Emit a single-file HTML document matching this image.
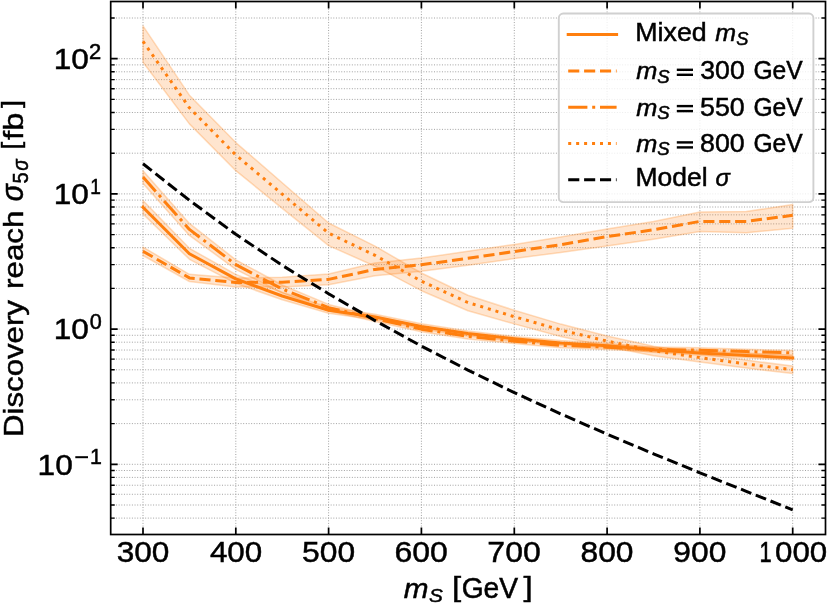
<!DOCTYPE html><html><head><meta charset="utf-8"><style>html,body{margin:0;padding:0;background:#fff}body{width:830px;height:606px;overflow:hidden}</style></head><body><svg width="830" height="606" viewBox="0 0 830 606" style="display:block;will-change:transform">
<rect width="830" height="606" fill="#fff"/>
<path d="M143.0 534.5V1.5M235.8 534.5V1.5M328.6 534.5V1.5M421.4 534.5V1.5M514.3 534.5V1.5M607.1 534.5V1.5M699.9 534.5V1.5M792.7 534.5V1.5M110.7 518.10H825.5M110.7 505.00H825.5M110.7 494.29H825.5M110.7 485.24H825.5M110.7 477.40H825.5M110.7 470.49H825.5M110.7 464.30H825.5M110.7 423.60H825.5M110.7 399.79H825.5M110.7 382.90H825.5M110.7 369.80H825.5M110.7 359.09H825.5M110.7 350.04H825.5M110.7 342.20H825.5M110.7 335.29H825.5M110.7 329.10H825.5M110.7 288.40H825.5M110.7 264.59H825.5M110.7 247.70H825.5M110.7 234.60H825.5M110.7 223.89H825.5M110.7 214.84H825.5M110.7 207.00H825.5M110.7 200.09H825.5M110.7 193.90H825.5M110.7 153.20H825.5M110.7 129.39H825.5M110.7 112.50H825.5M110.7 99.40H825.5M110.7 88.69H825.5M110.7 79.64H825.5M110.7 71.80H825.5M110.7 64.89H825.5M110.7 58.70H825.5M110.7 18.00H825.5" stroke="#a2a2a2" stroke-width="1" stroke-dasharray="1 1.65" fill="none"/>
<polygon points="143.0,200.4 189.4,248.3 235.8,274.4 282.2,292.2 328.6,307.3 375.0,314.2 421.4,323.8 467.9,331.1 514.3,336.4 560.7,340.5 607.1,343.3 653.5,347.4 699.9,350.5 746.3,353.0 792.7,355.4 792.7,360.2 746.3,357.8 699.9,355.3 653.5,352.2 607.1,348.1 560.7,345.3 514.3,341.1 467.9,336.1 421.4,329.1 375.0,319.8 328.6,313.3 282.2,299.8 235.8,283.4 189.4,259.3 143.0,214.0" fill="#ff7f0e" fill-opacity="0.2" stroke="#ff7f0e" stroke-opacity="0.26" stroke-width="1.5" stroke-linejoin="round"/>
<polygon points="143.0,247.1 189.4,274.3 235.8,278.1 282.2,277.3 328.6,274.0 375.0,263.0 421.4,258.1 467.9,251.3 514.3,244.4 560.7,237.0 607.1,228.9 653.5,221.4 699.9,212.0 746.3,211.5 792.7,204.6 792.7,228.2 746.3,232.8 699.9,231.4 653.5,239.2 607.1,246.0 560.7,252.4 514.3,258.6 467.9,265.3 421.4,271.3 375.0,275.8 328.6,284.8 282.2,287.1 235.8,286.9 189.4,281.5 143.0,255.5" fill="#ff7f0e" fill-opacity="0.2" stroke="#ff7f0e" stroke-opacity="0.26" stroke-width="1.5" stroke-linejoin="round"/>
<polygon points="143.0,170.8 189.4,223.4 235.8,259.8 282.2,285.0 328.6,304.4 375.0,315.9 421.4,326.5 467.9,333.9 514.3,338.8 560.7,342.9 607.1,344.8 653.5,347.0 699.9,347.8 746.3,349.2 792.7,350.5 792.7,355.3 746.3,354.0 699.9,352.6 653.5,351.8 607.1,349.6 560.7,347.7 514.3,343.5 467.9,338.9 421.4,331.8 375.0,321.5 328.6,310.8 282.2,293.0 235.8,269.4 189.4,235.4 143.0,183.4" fill="#ff7f0e" fill-opacity="0.2" stroke="#ff7f0e" stroke-opacity="0.26" stroke-width="1.5" stroke-linejoin="round"/>
<polygon points="143.0,25.9 189.4,95.2 235.8,142.6 282.2,182.7 328.6,223.0 375.0,246.1 421.4,273.0 467.9,295.3 514.3,310.3 560.7,324.1 607.1,336.0 653.5,346.3 699.9,353.5 746.3,360.1 792.7,366.1 792.7,373.6 746.3,368.1 699.9,362.0 653.5,355.7 607.1,346.6 560.7,336.5 514.3,323.9 467.9,310.7 421.4,290.7 375.0,266.2 328.6,245.6 282.2,208.3 235.8,170.7 189.4,123.9 143.0,62.2" fill="#ff7f0e" fill-opacity="0.2" stroke="#ff7f0e" stroke-opacity="0.26" stroke-width="1.5" stroke-linejoin="round"/>
<polyline points="143.0,207.20 189.4,253.80 235.8,278.90 282.2,296.00 328.6,310.30 375.0,317.00 421.4,326.45 467.9,333.60 514.3,338.75 560.7,342.90 607.1,345.70 653.5,349.80 699.9,352.90 746.3,355.40 792.7,357.80" fill="none" stroke="#ff7f0e" stroke-width="3.00" stroke-linejoin="round" stroke-linecap="square"/>
<polyline points="143.0,251.30 189.4,277.90 235.8,282.50 282.2,282.20 328.6,279.40 375.0,269.40 421.4,264.70 467.9,258.30 514.3,251.50 560.7,244.70 607.1,236.60 653.5,229.80 699.9,221.40 746.3,221.40 792.7,215.30" fill="none" stroke="#ff7f0e" stroke-width="3.00" stroke-linejoin="round" stroke-linecap="butt" stroke-dasharray="11.10 4.80"/>
<polyline points="143.0,177.10 189.4,229.40 235.8,264.60 282.2,289.00 328.6,307.60 375.0,318.70 421.4,329.15 467.9,336.40 514.3,341.15 560.7,345.30 607.1,347.20 653.5,349.40 699.9,350.20 746.3,351.60 792.7,352.90" fill="none" stroke="#ff7f0e" stroke-width="3.00" stroke-linejoin="round" stroke-linecap="butt" stroke-dasharray="19.20 4.80 3.00 4.80"/>
<polyline points="143.0,41.30 189.4,107.80 235.8,155.00 282.2,194.10 328.6,233.20 375.0,255.30 421.4,281.20 467.9,302.50 514.3,316.70 560.7,330.00 607.1,341.10 653.5,350.80 699.9,357.60 746.3,364.00 792.7,369.70" fill="none" stroke="#ff7f0e" stroke-width="3.00" stroke-linejoin="round" stroke-linecap="butt" stroke-dasharray="3.00 4.95"/>
<polyline points="143.0,163.80 189.4,200.30 235.8,234.30 282.2,265.30 328.6,293.80 375.0,320.60 421.4,346.10 467.9,370.10 514.3,392.60 560.7,413.90 607.1,434.20 653.5,453.80 699.9,472.80 746.3,491.30 792.7,509.90" fill="none" stroke="#000" stroke-width="3.00" stroke-linejoin="round" stroke-linecap="butt" stroke-dasharray="11.10 4.80"/>
<path d="M143.0 534.5v-7M143.0 1.5v7M235.8 534.5v-7M235.8 1.5v7M328.6 534.5v-7M328.6 1.5v7M421.4 534.5v-7M421.4 1.5v7M514.3 534.5v-7M514.3 1.5v7M607.1 534.5v-7M607.1 1.5v7M699.9 534.5v-7M699.9 1.5v7M792.7 534.5v-7M792.7 1.5v7M110.7 464.30h7 M825.5 464.30h-7M110.7 329.10h7 M825.5 329.10h-7M110.7 193.90h7 M825.5 193.90h-7M110.7 58.70h7 M825.5 58.70h-7" stroke="#000" stroke-width="1.7" fill="none"/>
<path d="M110.7 518.10h4 M825.5 518.10h-4M110.7 505.00h4 M825.5 505.00h-4M110.7 494.29h4 M825.5 494.29h-4M110.7 485.24h4 M825.5 485.24h-4M110.7 477.40h4 M825.5 477.40h-4M110.7 470.49h4 M825.5 470.49h-4M110.7 423.60h4 M825.5 423.60h-4M110.7 399.79h4 M825.5 399.79h-4M110.7 382.90h4 M825.5 382.90h-4M110.7 369.80h4 M825.5 369.80h-4M110.7 359.09h4 M825.5 359.09h-4M110.7 350.04h4 M825.5 350.04h-4M110.7 342.20h4 M825.5 342.20h-4M110.7 335.29h4 M825.5 335.29h-4M110.7 288.40h4 M825.5 288.40h-4M110.7 264.59h4 M825.5 264.59h-4M110.7 247.70h4 M825.5 247.70h-4M110.7 234.60h4 M825.5 234.60h-4M110.7 223.89h4 M825.5 223.89h-4M110.7 214.84h4 M825.5 214.84h-4M110.7 207.00h4 M825.5 207.00h-4M110.7 200.09h4 M825.5 200.09h-4M110.7 153.20h4 M825.5 153.20h-4M110.7 129.39h4 M825.5 129.39h-4M110.7 112.50h4 M825.5 112.50h-4M110.7 99.40h4 M825.5 99.40h-4M110.7 88.69h4 M825.5 88.69h-4M110.7 79.64h4 M825.5 79.64h-4M110.7 71.80h4 M825.5 71.80h-4M110.7 64.89h4 M825.5 64.89h-4M110.7 18.00h4 M825.5 18.00h-4" stroke="#000" stroke-width="1.4" fill="none"/>
<rect x="110.7" y="1.5" width="714.8" height="533.0" fill="none" stroke="#000" stroke-width="1.7"/>
<rect x="558.8" y="13.5" width="254.6" height="188.6" rx="4.5" ry="4.5" fill="#fff" fill-opacity="0.8" stroke="#d0d0d0" stroke-width="1.9"/>
<path d="M568.2 34.6H616.6" stroke="#ff7f0e" stroke-width="3.00" stroke-linecap="square"/>
<path d="M568.2 71.0H616.6" stroke="#ff7f0e" stroke-width="3.00" stroke-linecap="butt" stroke-dasharray="11.10 4.80"/>
<path d="M568.2 107.3H616.6" stroke="#ff7f0e" stroke-width="3.00" stroke-linecap="butt" stroke-dasharray="19.20 4.80 3.00 4.80"/>
<path d="M568.2 143.6H616.6" stroke="#ff7f0e" stroke-width="3.00" stroke-linecap="butt" stroke-dasharray="3.00 4.95"/>
<path d="M568.2 179.7H616.6" stroke="#000" stroke-width="3.00" stroke-linecap="butt" stroke-dasharray="11.10 4.80"/>
<text transform="translate(116.75 562.11) scale(0.3158 0.2887)" font-size="100" font-family="Liberation Sans, sans-serif" stroke="#000" stroke-width="1.6">300</text>
<text transform="translate(209.89 562.11) scale(0.3138 0.2887)" font-size="100" font-family="Liberation Sans, sans-serif" stroke="#000" stroke-width="1.6">400</text>
<text transform="translate(302.06 562.11) scale(0.3178 0.2887)" font-size="100" font-family="Liberation Sans, sans-serif" stroke="#000" stroke-width="1.6">500</text>
<text transform="translate(394.54 562.11) scale(0.3198 0.2887)" font-size="100" font-family="Liberation Sans, sans-serif" stroke="#000" stroke-width="1.6">600</text>
<text transform="translate(487.36 562.11) scale(0.3198 0.2887)" font-size="100" font-family="Liberation Sans, sans-serif" stroke="#000" stroke-width="1.6">700</text>
<text transform="translate(580.50 562.11) scale(0.3178 0.2887)" font-size="100" font-family="Liberation Sans, sans-serif" stroke="#000" stroke-width="1.6">800</text>
<text transform="translate(673.31 562.11) scale(0.3178 0.2887)" font-size="100" font-family="Liberation Sans, sans-serif" stroke="#000" stroke-width="1.6">900</text>
<text transform="translate(759.47 562.10) scale(0.2182 0.2884)" font-size="100" font-family="Liberation Sans, sans-serif" stroke="#000" stroke-width="2.3">1</text>
<text transform="translate(775.06 562.11) scale(0.3127 0.2887)" font-size="100" font-family="Liberation Sans, sans-serif" stroke="#000" stroke-width="1.6">000</text>
<text transform="translate(53.79 69.00) scale(0.3161 0.3014)" font-size="100" font-family="Liberation Sans, sans-serif" stroke="#000" stroke-width="1.6">10</text>
<text transform="translate(89.00 58.80) scale(0.2196 0.2129)" font-size="100" font-family="Liberation Sans, sans-serif" stroke="#000" stroke-width="2.3">2</text>
<text transform="translate(53.79 204.20) scale(0.3161 0.3014)" font-size="100" font-family="Liberation Sans, sans-serif" stroke="#000" stroke-width="1.6">10</text>
<text transform="translate(90.26 193.90) scale(0.1909 0.2130)" font-size="100" font-family="Liberation Sans, sans-serif" stroke="#000" stroke-width="2.6">1</text>
<text transform="translate(53.79 339.40) scale(0.3161 0.3014)" font-size="100" font-family="Liberation Sans, sans-serif" stroke="#000" stroke-width="1.6">10</text>
<text transform="translate(89.65 329.48) scale(0.2163 0.2169)" font-size="100" font-family="Liberation Sans, sans-serif" stroke="#000" stroke-width="2.3">0</text>
<text transform="translate(37.58 474.60) scale(0.3170 0.3014)" font-size="100" font-family="Liberation Sans, sans-serif" stroke="#000" stroke-width="1.6">10</text>
<text transform="translate(90.10 464.30) scale(0.2136 0.2130)" font-size="100" font-family="Liberation Sans, sans-serif" stroke="#000" stroke-width="2.3">1</text>
<text transform="translate(403.80 597.60) scale(0.2974 0.2778)" font-size="100" font-family="Liberation Sans, sans-serif" font-style="italic" stroke="#000" stroke-width="1.7">m</text>
<text transform="translate(428.98 601.61) scale(0.2078 0.1917)" font-size="100" font-family="Liberation Sans, sans-serif" font-style="italic" stroke="#000" stroke-width="2.4">S</text>
<text transform="translate(452.09 596.17) scale(0.3300 0.2681)" font-size="100" font-family="Liberation Sans, sans-serif" stroke="#000" stroke-width="1.5">[</text>
<text transform="translate(461.69 597.71) scale(0.2820 0.2930)" font-size="100" font-family="Liberation Sans, sans-serif" stroke="#000" stroke-width="1.8">GeV</text>
<text transform="translate(523.40 596.17) scale(0.3333 0.2681)" font-size="100" font-family="Liberation Sans, sans-serif" stroke="#000" stroke-width="1.5">]</text>
<text transform="translate(635.26 41.35) scale(0.2678 0.2500)" font-size="100" font-family="Liberation Sans, sans-serif" stroke="#000" stroke-width="1.9">Mixed</text>
<text transform="translate(715.15 41.40) scale(0.2500 0.2444)" font-size="100" font-family="Liberation Sans, sans-serif" font-style="italic" stroke="#000" stroke-width="2.0">m</text>
<text transform="translate(736.13 45.22) scale(0.1828 0.1819)" font-size="100" font-family="Liberation Sans, sans-serif" font-style="italic" stroke="#000" stroke-width="2.7">S</text>
<text transform="translate(636.35 79.20) scale(0.2538 0.2444)" font-size="100" font-family="Liberation Sans, sans-serif" font-style="italic" stroke="#000" stroke-width="2.0">m</text>
<text transform="translate(657.33 82.73) scale(0.1859 0.1750)" font-size="100" font-family="Liberation Sans, sans-serif" font-style="italic" stroke="#000" stroke-width="2.7">S</text>
<text transform="translate(700.30 79.25) scale(0.2665 0.2535)" font-size="100" font-family="Liberation Sans, sans-serif" stroke="#000" stroke-width="1.9">300</text>
<text transform="translate(753.47 79.25) scale(0.2462 0.2535)" font-size="100" font-family="Liberation Sans, sans-serif" stroke="#000" stroke-width="2.0">GeV</text>
<text transform="translate(636.35 115.50) scale(0.2538 0.2444)" font-size="100" font-family="Liberation Sans, sans-serif" font-style="italic" stroke="#000" stroke-width="2.0">m</text>
<text transform="translate(657.33 119.03) scale(0.1859 0.1750)" font-size="100" font-family="Liberation Sans, sans-serif" font-style="italic" stroke="#000" stroke-width="2.7">S</text>
<text transform="translate(700.03 115.55) scale(0.2682 0.2535)" font-size="100" font-family="Liberation Sans, sans-serif" stroke="#000" stroke-width="1.9">550</text>
<text transform="translate(753.47 115.55) scale(0.2462 0.2535)" font-size="100" font-family="Liberation Sans, sans-serif" stroke="#000" stroke-width="2.0">GeV</text>
<text transform="translate(636.35 151.80) scale(0.2538 0.2444)" font-size="100" font-family="Liberation Sans, sans-serif" font-style="italic" stroke="#000" stroke-width="2.0">m</text>
<text transform="translate(657.33 155.32) scale(0.1859 0.1750)" font-size="100" font-family="Liberation Sans, sans-serif" font-style="italic" stroke="#000" stroke-width="2.7">S</text>
<text transform="translate(700.03 151.85) scale(0.2682 0.2535)" font-size="100" font-family="Liberation Sans, sans-serif" stroke="#000" stroke-width="1.9">800</text>
<text transform="translate(753.47 151.85) scale(0.2462 0.2535)" font-size="100" font-family="Liberation Sans, sans-serif" stroke="#000" stroke-width="2.0">GeV</text>
<text transform="translate(635.48 186.25) scale(0.2646 0.2527)" font-size="100" font-family="Liberation Sans, sans-serif" stroke="#000" stroke-width="1.9">Model</text>
<text transform="translate(715.59 186.25) scale(0.2377 0.2481)" font-size="100" font-family="Liberation Sans, sans-serif" font-style="italic" stroke="#000" stroke-width="2.1">σ</text>
<g transform="translate(0 434.5) rotate(-90)"><text transform="translate(-2.50 22.61) scale(0.3121 0.2755)" font-size="100" font-family="Liberation Sans, sans-serif" stroke="#000" stroke-width="1.6">Discovery</text><text transform="translate(145.52 22.52) scale(0.3136 0.2784)" font-size="100" font-family="Liberation Sans, sans-serif" stroke="#000" stroke-width="1.6">reach</text><text transform="translate(233.35 23.19) scale(0.2836 0.3074)" font-size="100" font-family="Liberation Sans, sans-serif" font-style="italic" stroke="#000" stroke-width="1.8">σ</text><text transform="translate(251.00 27.68) scale(0.2000 0.2186)" font-size="100" font-family="Liberation Sans, sans-serif" stroke="#000" stroke-width="2.5">5</text><text transform="translate(263.63 27.98) scale(0.1902 0.2204)" font-size="100" font-family="Liberation Sans, sans-serif" font-style="italic" stroke="#000" stroke-width="2.6">σ</text><text transform="translate(285.04 20.39) scale(0.2800 0.2574)" font-size="100" font-family="Liberation Sans, sans-serif" stroke="#000" stroke-width="1.8">[</text><text transform="translate(294.57 22.52) scale(0.3275 0.2784)" font-size="100" font-family="Liberation Sans, sans-serif" stroke="#000" stroke-width="1.5">fb</text><text transform="translate(326.40 20.39) scale(0.2952 0.2574)" font-size="100" font-family="Liberation Sans, sans-serif" stroke="#000" stroke-width="1.7">]</text></g>
<rect x="75.3" y="456.20" width="12.7" height="2" fill="#000"/>
<rect x="676.8" y="68.60" width="16.2" height="2.4" fill="#000"/><rect x="676.8" y="73.60" width="16.2" height="2.4" fill="#000"/>
<rect x="676.8" y="104.90" width="16.2" height="2.4" fill="#000"/><rect x="676.8" y="109.90" width="16.2" height="2.4" fill="#000"/>
<rect x="676.8" y="141.20" width="16.2" height="2.4" fill="#000"/><rect x="676.8" y="146.20" width="16.2" height="2.4" fill="#000"/>
</svg></body></html>
